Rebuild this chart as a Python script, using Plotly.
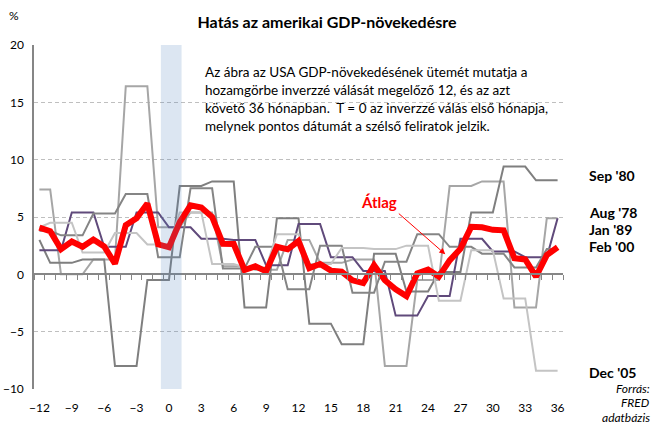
import plotly.graph_objects as go

months = list(range(-12, 37))
xtick_vals = list(range(-12, 37, 3))

aug78 = [7.4, 7.4, 0.0, 0.0, 0.0, 1.3, 1.3, 1.3, 16.4, 16.4, 16.4, 4.1, 4.1, 4.1, 5.4, 5.4, 5.4,
         0.7, 0.7, 0.7, 0.4, 0.4, 0.4, 3.0, 3.0, 3.0, 1.0, 1.0, 1.0, 1.3, 1.3, 1.3, -8.0, -8.0, -8.0,
         -0.5, -0.5, -0.5, 7.7, 7.7, 7.7, 8.1, 8.1, 8.1, -2.9, -2.9, -2.9, 4.9, 4.9]
sep80 = [3.0, 1.0, 1.0, 1.0, 1.3, 1.3, 1.3, -8.0, -8.0, -8.0, -0.5, -0.5, -0.5, 7.7, 7.7, 7.7,
         8.1, 8.1, 8.1, -2.9, -2.9, -2.9, 4.9, 4.9, 4.9, -4.3, -4.3, -4.3, -6.1, -6.1, -6.1,
         1.8, 1.8, 1.8, -1.5, -1.5, -1.5, 0.2, 0.2, 0.2, 5.4, 5.4, 5.4, 9.4, 9.4, 9.4, 8.2, 8.2, 8.2]
jan89 = [2.1, 2.1, 2.1, 5.4, 5.4, 5.4, 2.4, 2.4, 2.4, 5.4, 5.4, 5.4, 4.1, 4.1, 4.1, 3.1, 3.1, 3.1,
         3.0, 3.0, 3.0, 0.8, 0.8, 0.8, 4.4, 4.4, 4.4, 1.5, 1.5, 1.5, 0.3, 0.3, 0.3, -3.6, -3.6, -3.6,
         -1.9, -1.9, -1.9, 3.1, 3.1, 3.1, 2.0, 2.0, 2.0, 1.5, 1.5, 1.5, 4.9]
feb00 = [3.8, 3.8, 3.4, 3.4, 3.4, 5.3, 5.3, 5.3, 7.0, 7.0, 7.0, 1.5, 1.5, 1.5, 7.5, 7.5, 7.5,
         0.5, 0.5, 0.5, 2.4, 2.4, 2.4, -1.3, -1.3, -1.3, 2.5, 2.5, 2.5, -1.6, -1.6, -1.6,
         1.1, 1.1, 1.1, 3.5, 3.5, 3.5, 2.4, 2.4, 2.4, 1.8, 1.8, 1.8, 0.6, 0.6, 0.6, 2.2, 2.2]
dec05 = [4.1, 4.5, 4.5, 4.5, 1.9, 1.9, 1.9, 3.6, 3.6, 3.6, 2.6, 2.6, 2.6, 5.4, 5.4, 5.4,
         0.9, 0.9, 0.9, 0.6, 0.6, 0.6, 3.5, 3.5, 3.5, 0.9, 0.9, 0.9, 2.3, 2.3, 2.3, 2.2, 2.2, 2.2,
         2.5, 2.5, 2.5, -2.3, -2.3, -2.3, 2.1, 2.1, 2.1, -2.1, -2.1, -2.1, -8.4, -8.4, -8.4]
atlag = [4.08, 3.76, 2.2, 2.86, 2.4, 3.04, 2.44, 0.92, 4.28, 4.88, 6.18, 2.62, 2.36,
         4.56, 6.02, 5.82, 5.0, 2.66, 2.64, 0.38, 0.7, 0.26, 2.4, 2.18, 2.9,
         0.54, 0.9, 0.32, 0.24, -0.52, -0.76, 0.8, -0.52, -1.3, -1.9, 0.08, 0.42,
         -0.2, 1.22, 2.22, 4.14, 4.1, 3.88, 3.84, 1.4, 1.3, -0.2, 1.68, 2.36]

series = [
    ("Aug '78", aug78, "#A6A6A6"),
    ("Sep '80", sep80, "#7F7F7F"),
    ("Jan '89", jan89, "#604A7B"),
    ("Feb '00", feb00, "#858585"),
    ("Dec '05", dec05, "#C4C4C4"),
]

FONT = "Lato, 'Open Sans', sans-serif"
W, H = 659, 425
L, R, T, B = 34, 96, 45, 36
PW, PH = W - L - R, H - T - B

def px(xp):
    return (xp - L) / PW

def py(yp):
    return (H - B - yp) / PH

fig = go.Figure()
for name, vals, col in series:
    fig.add_trace(go.Scatter(x=months, y=vals, mode="lines", name=name,
                             line=dict(color=col, width=2), showlegend=False))
fig.add_trace(go.Scatter(x=months, y=atlag, mode="lines", name="Átlag",
                         line=dict(color="#FF0000", width=6), showlegend=False))
fig.add_trace(go.Scatter(x=[None], y=[None], xaxis="x2", showlegend=False, hoverinfo="skip"))

fig.add_shape(type="rect", xref="x", yref="y", x0=-0.75, x1=1.17, y0=-10, y1=20,
              fillcolor="rgba(79,129,189,0.2)", line=dict(width=0), layer="above")

annotations = []
text_lines = [
    "Az ábra az USA GDP-növekedésének ütemét mutatja a",
    "hozamgörbe inverzzé válását megelőző 12, és az azt",
    "követő 36 hónapban.  T = 0 az inverzzé válás első hónapja,",
    "melynek pontos dátumát a szélső feliratok jelzik.",
]
for i, t in enumerate(text_lines):
    annotations.append(dict(text=t, xref="paper", yref="paper", x=px(203), y=py(72 + 18 * i),
                            xanchor="left", yanchor="middle", showarrow=False,
                            font=dict(family=FONT, size=13.5, color="#000000")))

labels = [("Sep '80", 175), ("Aug '78", 212), ("Jan '89", 229), ("Feb '00", 247), ("Dec '05", 372)]
for t, yp in labels:
    annotations.append(dict(text="<b>" + t + "</b>", xref="paper", yref="paper", x=px(587), y=py(yp),
                            xanchor="left", yanchor="middle", showarrow=False,
                            font=dict(family=FONT, size=14, color="#000000")))

for i, t in enumerate(["Forrás:", "FRED", "adatbázis"]):
    annotations.append(dict(text="<i>" + t + "</i>", xref="paper", yref="paper", x=px(652), y=py(388 + 14.5 * i),
                            xanchor="right", yanchor="middle", showarrow=False,
                            font=dict(family=FONT, size=12, color="#000000")))

annotations.append(dict(text="%", xref="paper", yref="paper", x=px(14), y=py(15),
                        xanchor="center", yanchor="middle", showarrow=False,
                        font=dict(family=FONT, size=12, color="#000000")))

annotations.append(dict(text="<b>Átlag</b>", xref="paper", yref="paper", x=px(379), y=py(202),
                        xanchor="center", yanchor="middle", showarrow=False,
                        font=dict(family=FONT, size=15, color="#FF0000")))
annotations.append(dict(text="", x=25.6, y=1.75, xref="x", yref="y", ax=-48, ay=-42,
                        showarrow=True, arrowhead=2, arrowsize=1.2, arrowwidth=1, arrowcolor="#FF0000"))

fig.update_layout(
    width=W, height=H,
    margin=dict(l=L, r=R, t=T, b=B, autoexpand=False),
    paper_bgcolor="white", plot_bgcolor="white",
    font=dict(family=FONT, size=12, color="#000000"),
    title=dict(text="<b>Hatás az amerikai GDP-növekedésre</b>", x=327 / W, xref="container",
               xanchor="center", y=1 - 22 / H, yref="container", yanchor="middle",
               font=dict(family=FONT, size=16, color="#000000")),
    xaxis=dict(range=[-12.5, 36.5], tickvals=xtick_vals, showgrid=False, zeroline=False,
               showline=False, ticks="", ticklabelstandoff=10, automargin=False,
               tickfont=dict(family=FONT, size=12, color="#000000")),
    xaxis2=dict(range=[-12.5, 36.5], overlaying="x", anchor="free", position=1 / 3,
                side="bottom", showgrid=False, zeroline=False, showline=True, automargin=False,
                linecolor="#868686", linewidth=1.5, ticks="outside", ticklen=5,
                tickcolor="#868686", tickwidth=1, tickvals=[v + 0.5 for v in range(-13, 37)],
                showticklabels=False),
    yaxis=dict(range=[-10, 20], dtick=5, showgrid=True, gridcolor="#BFBFBF", griddash="4px,3px",
               gridwidth=1, zeroline=False, showline=True, linecolor="#868686", linewidth=1.5,
               ticks="", ticklabelstandoff=6, automargin=False,
               tickfont=dict(family=FONT, size=12, color="#000000")),
    annotations=annotations,
)

fig.write_html("out.html", config={"displayModeBar": False},
               post_script="document.body.style.margin='0px';")
